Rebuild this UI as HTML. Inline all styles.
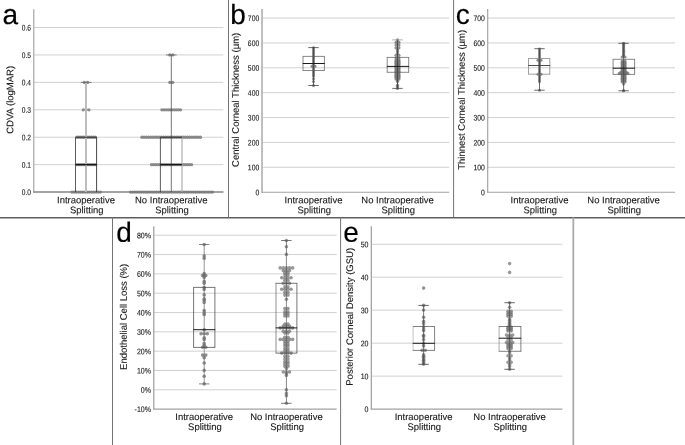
<!DOCTYPE html>
<html lang="en"><head><meta charset="utf-8"><title>Figure</title>
<style>
html,body{margin:0;padding:0;background:#fff;}
body{width:685px;height:445px;overflow:hidden;}
svg{display:block;}
svg text{font-family:"Liberation Sans",Arial,sans-serif;text-rendering:geometricPrecision;}
svg text.t{stroke:#1a1a1a;stroke-width:0.12px;}
svg text.L{stroke:#000;stroke-width:0.15px;}
</style></head><body>
<svg width="685" height="445" viewBox="0 0 685 445" font-family="'Liberation Sans', Arial, sans-serif">
<rect width="685" height="445" fill="#fff"/>
<line x1="33.80" y1="164.67" x2="223.40" y2="164.67" stroke="#cccccc" stroke-width="0.9"/>
<line x1="33.80" y1="137.24" x2="223.40" y2="137.24" stroke="#cccccc" stroke-width="0.9"/>
<line x1="33.80" y1="109.81" x2="223.40" y2="109.81" stroke="#cccccc" stroke-width="0.9"/>
<line x1="33.80" y1="82.38" x2="223.40" y2="82.38" stroke="#cccccc" stroke-width="0.9"/>
<line x1="33.80" y1="54.95" x2="223.40" y2="54.95" stroke="#cccccc" stroke-width="0.9"/>
<line x1="33.80" y1="27.52" x2="223.40" y2="27.52" stroke="#cccccc" stroke-width="0.9"/>
<line x1="33.80" y1="9.30" x2="33.80" y2="192.50" stroke="#a2a2a2" stroke-width="1.15"/>
<line x1="33.20" y1="192.00" x2="223.40" y2="192.00" stroke="#a2a2a2" stroke-width="1.05"/>
<circle cx="72.00" cy="192.10" r="1.65" fill="#808080" fill-opacity="0.88"/>
<circle cx="74.18" cy="192.10" r="1.65" fill="#808080" fill-opacity="0.88"/>
<circle cx="76.35" cy="192.10" r="1.65" fill="#808080" fill-opacity="0.88"/>
<circle cx="78.53" cy="192.10" r="1.65" fill="#808080" fill-opacity="0.88"/>
<circle cx="80.71" cy="192.10" r="1.65" fill="#808080" fill-opacity="0.88"/>
<circle cx="82.88" cy="192.10" r="1.65" fill="#808080" fill-opacity="0.88"/>
<circle cx="85.06" cy="192.10" r="1.65" fill="#808080" fill-opacity="0.88"/>
<circle cx="87.24" cy="192.10" r="1.65" fill="#808080" fill-opacity="0.88"/>
<circle cx="89.42" cy="192.10" r="1.65" fill="#808080" fill-opacity="0.88"/>
<circle cx="91.59" cy="192.10" r="1.65" fill="#808080" fill-opacity="0.88"/>
<circle cx="93.77" cy="192.10" r="1.65" fill="#808080" fill-opacity="0.88"/>
<circle cx="95.95" cy="192.10" r="1.65" fill="#808080" fill-opacity="0.88"/>
<circle cx="98.12" cy="192.10" r="1.65" fill="#808080" fill-opacity="0.88"/>
<circle cx="100.30" cy="192.10" r="1.65" fill="#808080" fill-opacity="0.88"/>
<circle cx="77.00" cy="137.24" r="1.65" fill="#808080" fill-opacity="0.88"/>
<circle cx="79.03" cy="137.24" r="1.65" fill="#808080" fill-opacity="0.88"/>
<circle cx="81.07" cy="137.24" r="1.65" fill="#808080" fill-opacity="0.88"/>
<circle cx="83.10" cy="137.24" r="1.65" fill="#808080" fill-opacity="0.88"/>
<circle cx="85.13" cy="137.24" r="1.65" fill="#808080" fill-opacity="0.88"/>
<circle cx="87.17" cy="137.24" r="1.65" fill="#808080" fill-opacity="0.88"/>
<circle cx="89.20" cy="137.24" r="1.65" fill="#808080" fill-opacity="0.88"/>
<circle cx="91.23" cy="137.24" r="1.65" fill="#808080" fill-opacity="0.88"/>
<circle cx="93.27" cy="137.24" r="1.65" fill="#808080" fill-opacity="0.88"/>
<circle cx="95.30" cy="137.24" r="1.65" fill="#808080" fill-opacity="0.88"/>
<circle cx="83.30" cy="109.81" r="1.65" fill="#808080" fill-opacity="0.88"/>
<circle cx="86.10" cy="109.81" r="1.65" fill="#808080" fill-opacity="0.88"/>
<circle cx="88.90" cy="109.81" r="1.65" fill="#808080" fill-opacity="0.88"/>
<circle cx="84.40" cy="82.38" r="1.65" fill="#808080" fill-opacity="0.88"/>
<circle cx="87.60" cy="82.38" r="1.65" fill="#808080" fill-opacity="0.88"/>
<circle cx="77.00" cy="164.67" r="1.65" fill="#808080" fill-opacity="0.88"/>
<circle cx="79.03" cy="164.67" r="1.65" fill="#808080" fill-opacity="0.88"/>
<circle cx="81.07" cy="164.67" r="1.65" fill="#808080" fill-opacity="0.88"/>
<circle cx="83.10" cy="164.67" r="1.65" fill="#808080" fill-opacity="0.88"/>
<circle cx="85.13" cy="164.67" r="1.65" fill="#808080" fill-opacity="0.88"/>
<circle cx="87.17" cy="164.67" r="1.65" fill="#808080" fill-opacity="0.88"/>
<circle cx="89.20" cy="164.67" r="1.65" fill="#808080" fill-opacity="0.88"/>
<circle cx="91.23" cy="164.67" r="1.65" fill="#808080" fill-opacity="0.88"/>
<circle cx="93.27" cy="164.67" r="1.65" fill="#808080" fill-opacity="0.88"/>
<circle cx="95.30" cy="164.67" r="1.65" fill="#808080" fill-opacity="0.88"/>
<circle cx="130.50" cy="192.10" r="1.65" fill="#808080" fill-opacity="0.88"/>
<circle cx="132.66" cy="192.10" r="1.65" fill="#808080" fill-opacity="0.88"/>
<circle cx="134.82" cy="192.10" r="1.65" fill="#808080" fill-opacity="0.88"/>
<circle cx="136.97" cy="192.10" r="1.65" fill="#808080" fill-opacity="0.88"/>
<circle cx="139.13" cy="192.10" r="1.65" fill="#808080" fill-opacity="0.88"/>
<circle cx="141.29" cy="192.10" r="1.65" fill="#808080" fill-opacity="0.88"/>
<circle cx="143.45" cy="192.10" r="1.65" fill="#808080" fill-opacity="0.88"/>
<circle cx="145.61" cy="192.10" r="1.65" fill="#808080" fill-opacity="0.88"/>
<circle cx="147.76" cy="192.10" r="1.65" fill="#808080" fill-opacity="0.88"/>
<circle cx="149.92" cy="192.10" r="1.65" fill="#808080" fill-opacity="0.88"/>
<circle cx="152.08" cy="192.10" r="1.65" fill="#808080" fill-opacity="0.88"/>
<circle cx="154.24" cy="192.10" r="1.65" fill="#808080" fill-opacity="0.88"/>
<circle cx="156.39" cy="192.10" r="1.65" fill="#808080" fill-opacity="0.88"/>
<circle cx="158.55" cy="192.10" r="1.65" fill="#808080" fill-opacity="0.88"/>
<circle cx="160.71" cy="192.10" r="1.65" fill="#808080" fill-opacity="0.88"/>
<circle cx="162.87" cy="192.10" r="1.65" fill="#808080" fill-opacity="0.88"/>
<circle cx="165.03" cy="192.10" r="1.65" fill="#808080" fill-opacity="0.88"/>
<circle cx="167.18" cy="192.10" r="1.65" fill="#808080" fill-opacity="0.88"/>
<circle cx="169.34" cy="192.10" r="1.65" fill="#808080" fill-opacity="0.88"/>
<circle cx="171.50" cy="192.10" r="1.65" fill="#808080" fill-opacity="0.88"/>
<circle cx="173.66" cy="192.10" r="1.65" fill="#808080" fill-opacity="0.88"/>
<circle cx="175.82" cy="192.10" r="1.65" fill="#808080" fill-opacity="0.88"/>
<circle cx="177.97" cy="192.10" r="1.65" fill="#808080" fill-opacity="0.88"/>
<circle cx="180.13" cy="192.10" r="1.65" fill="#808080" fill-opacity="0.88"/>
<circle cx="182.29" cy="192.10" r="1.65" fill="#808080" fill-opacity="0.88"/>
<circle cx="184.45" cy="192.10" r="1.65" fill="#808080" fill-opacity="0.88"/>
<circle cx="186.61" cy="192.10" r="1.65" fill="#808080" fill-opacity="0.88"/>
<circle cx="188.76" cy="192.10" r="1.65" fill="#808080" fill-opacity="0.88"/>
<circle cx="190.92" cy="192.10" r="1.65" fill="#808080" fill-opacity="0.88"/>
<circle cx="193.08" cy="192.10" r="1.65" fill="#808080" fill-opacity="0.88"/>
<circle cx="195.24" cy="192.10" r="1.65" fill="#808080" fill-opacity="0.88"/>
<circle cx="197.39" cy="192.10" r="1.65" fill="#808080" fill-opacity="0.88"/>
<circle cx="199.55" cy="192.10" r="1.65" fill="#808080" fill-opacity="0.88"/>
<circle cx="201.71" cy="192.10" r="1.65" fill="#808080" fill-opacity="0.88"/>
<circle cx="203.87" cy="192.10" r="1.65" fill="#808080" fill-opacity="0.88"/>
<circle cx="206.03" cy="192.10" r="1.65" fill="#808080" fill-opacity="0.88"/>
<circle cx="208.18" cy="192.10" r="1.65" fill="#808080" fill-opacity="0.88"/>
<circle cx="210.34" cy="192.10" r="1.65" fill="#808080" fill-opacity="0.88"/>
<circle cx="212.50" cy="192.10" r="1.65" fill="#808080" fill-opacity="0.88"/>
<circle cx="151.50" cy="164.67" r="1.65" fill="#808080" fill-opacity="0.88"/>
<circle cx="153.61" cy="164.67" r="1.65" fill="#808080" fill-opacity="0.88"/>
<circle cx="155.71" cy="164.67" r="1.65" fill="#808080" fill-opacity="0.88"/>
<circle cx="157.82" cy="164.67" r="1.65" fill="#808080" fill-opacity="0.88"/>
<circle cx="159.92" cy="164.67" r="1.65" fill="#808080" fill-opacity="0.88"/>
<circle cx="162.03" cy="164.67" r="1.65" fill="#808080" fill-opacity="0.88"/>
<circle cx="164.13" cy="164.67" r="1.65" fill="#808080" fill-opacity="0.88"/>
<circle cx="166.24" cy="164.67" r="1.65" fill="#808080" fill-opacity="0.88"/>
<circle cx="168.34" cy="164.67" r="1.65" fill="#808080" fill-opacity="0.88"/>
<circle cx="170.45" cy="164.67" r="1.65" fill="#808080" fill-opacity="0.88"/>
<circle cx="172.55" cy="164.67" r="1.65" fill="#808080" fill-opacity="0.88"/>
<circle cx="174.66" cy="164.67" r="1.65" fill="#808080" fill-opacity="0.88"/>
<circle cx="176.76" cy="164.67" r="1.65" fill="#808080" fill-opacity="0.88"/>
<circle cx="178.87" cy="164.67" r="1.65" fill="#808080" fill-opacity="0.88"/>
<circle cx="180.97" cy="164.67" r="1.65" fill="#808080" fill-opacity="0.88"/>
<circle cx="183.08" cy="164.67" r="1.65" fill="#808080" fill-opacity="0.88"/>
<circle cx="185.18" cy="164.67" r="1.65" fill="#808080" fill-opacity="0.88"/>
<circle cx="187.29" cy="164.67" r="1.65" fill="#808080" fill-opacity="0.88"/>
<circle cx="189.39" cy="164.67" r="1.65" fill="#808080" fill-opacity="0.88"/>
<circle cx="191.50" cy="164.67" r="1.65" fill="#808080" fill-opacity="0.88"/>
<circle cx="141.90" cy="137.24" r="1.65" fill="#808080" fill-opacity="0.88"/>
<circle cx="144.07" cy="137.24" r="1.65" fill="#808080" fill-opacity="0.88"/>
<circle cx="146.24" cy="137.24" r="1.65" fill="#808080" fill-opacity="0.88"/>
<circle cx="148.41" cy="137.24" r="1.65" fill="#808080" fill-opacity="0.88"/>
<circle cx="150.58" cy="137.24" r="1.65" fill="#808080" fill-opacity="0.88"/>
<circle cx="152.75" cy="137.24" r="1.65" fill="#808080" fill-opacity="0.88"/>
<circle cx="154.92" cy="137.24" r="1.65" fill="#808080" fill-opacity="0.88"/>
<circle cx="157.09" cy="137.24" r="1.65" fill="#808080" fill-opacity="0.88"/>
<circle cx="159.26" cy="137.24" r="1.65" fill="#808080" fill-opacity="0.88"/>
<circle cx="161.43" cy="137.24" r="1.65" fill="#808080" fill-opacity="0.88"/>
<circle cx="163.60" cy="137.24" r="1.65" fill="#808080" fill-opacity="0.88"/>
<circle cx="165.77" cy="137.24" r="1.65" fill="#808080" fill-opacity="0.88"/>
<circle cx="167.94" cy="137.24" r="1.65" fill="#808080" fill-opacity="0.88"/>
<circle cx="170.11" cy="137.24" r="1.65" fill="#808080" fill-opacity="0.88"/>
<circle cx="172.29" cy="137.24" r="1.65" fill="#808080" fill-opacity="0.88"/>
<circle cx="174.46" cy="137.24" r="1.65" fill="#808080" fill-opacity="0.88"/>
<circle cx="176.63" cy="137.24" r="1.65" fill="#808080" fill-opacity="0.88"/>
<circle cx="178.80" cy="137.24" r="1.65" fill="#808080" fill-opacity="0.88"/>
<circle cx="180.97" cy="137.24" r="1.65" fill="#808080" fill-opacity="0.88"/>
<circle cx="183.14" cy="137.24" r="1.65" fill="#808080" fill-opacity="0.88"/>
<circle cx="185.31" cy="137.24" r="1.65" fill="#808080" fill-opacity="0.88"/>
<circle cx="187.48" cy="137.24" r="1.65" fill="#808080" fill-opacity="0.88"/>
<circle cx="189.65" cy="137.24" r="1.65" fill="#808080" fill-opacity="0.88"/>
<circle cx="191.82" cy="137.24" r="1.65" fill="#808080" fill-opacity="0.88"/>
<circle cx="193.99" cy="137.24" r="1.65" fill="#808080" fill-opacity="0.88"/>
<circle cx="196.16" cy="137.24" r="1.65" fill="#808080" fill-opacity="0.88"/>
<circle cx="198.33" cy="137.24" r="1.65" fill="#808080" fill-opacity="0.88"/>
<circle cx="200.50" cy="137.24" r="1.65" fill="#808080" fill-opacity="0.88"/>
<circle cx="161.90" cy="109.81" r="1.65" fill="#808080" fill-opacity="0.88"/>
<circle cx="163.97" cy="109.81" r="1.65" fill="#808080" fill-opacity="0.88"/>
<circle cx="166.03" cy="109.81" r="1.65" fill="#808080" fill-opacity="0.88"/>
<circle cx="168.10" cy="109.81" r="1.65" fill="#808080" fill-opacity="0.88"/>
<circle cx="170.17" cy="109.81" r="1.65" fill="#808080" fill-opacity="0.88"/>
<circle cx="172.23" cy="109.81" r="1.65" fill="#808080" fill-opacity="0.88"/>
<circle cx="174.30" cy="109.81" r="1.65" fill="#808080" fill-opacity="0.88"/>
<circle cx="176.37" cy="109.81" r="1.65" fill="#808080" fill-opacity="0.88"/>
<circle cx="178.43" cy="109.81" r="1.65" fill="#808080" fill-opacity="0.88"/>
<circle cx="180.50" cy="109.81" r="1.65" fill="#808080" fill-opacity="0.88"/>
<circle cx="169.80" cy="82.38" r="1.65" fill="#808080" fill-opacity="0.88"/>
<circle cx="172.80" cy="82.38" r="1.65" fill="#808080" fill-opacity="0.88"/>
<circle cx="169.80" cy="54.95" r="1.65" fill="#808080" fill-opacity="0.88"/>
<circle cx="172.80" cy="54.95" r="1.65" fill="#808080" fill-opacity="0.88"/>
<line x1="33.20" y1="192.00" x2="223.40" y2="192.00" stroke="#777" stroke-width="1.0"/>
<line x1="86.00" y1="82.38" x2="86.00" y2="192.10" stroke="#bdbdbd" stroke-width="2.0"/>
<line x1="80.80" y1="82.38" x2="91.60" y2="82.38" stroke="#666" stroke-width="0.8"/>
<line x1="75.50" y1="137.24" x2="75.50" y2="192.10" stroke="#333" stroke-width="0.8"/>
<line x1="96.60" y1="137.24" x2="96.60" y2="192.10" stroke="#333" stroke-width="0.9"/>
<line x1="75.50" y1="164.67" x2="96.80" y2="164.67" stroke="#111" stroke-width="1.2"/>
<line x1="75.50" y1="137.24" x2="96.80" y2="137.24" stroke="#333" stroke-width="1.0"/>
<line x1="171.30" y1="54.95" x2="171.30" y2="192.10" stroke="#3c3c3c" stroke-width="0.7"/>
<line x1="166.00" y1="54.95" x2="176.60" y2="54.95" stroke="#666" stroke-width="0.8"/>
<line x1="160.40" y1="137.24" x2="160.40" y2="192.10" stroke="#333" stroke-width="0.8"/>
<line x1="182.00" y1="137.24" x2="182.00" y2="192.10" stroke="#a8a8a8" stroke-width="1.1"/>
<line x1="160.40" y1="164.67" x2="182.00" y2="164.67" stroke="#111" stroke-width="1.2"/>
<line x1="160.40" y1="137.24" x2="182.00" y2="137.24" stroke="#333" stroke-width="1.0"/>
<line x1="262.00" y1="167.28" x2="449.20" y2="167.28" stroke="#cccccc" stroke-width="0.9"/>
<line x1="262.00" y1="142.41" x2="449.20" y2="142.41" stroke="#cccccc" stroke-width="0.9"/>
<line x1="262.00" y1="117.54" x2="449.20" y2="117.54" stroke="#cccccc" stroke-width="0.9"/>
<line x1="262.00" y1="92.67" x2="449.20" y2="92.67" stroke="#cccccc" stroke-width="0.9"/>
<line x1="262.00" y1="67.80" x2="449.20" y2="67.80" stroke="#cccccc" stroke-width="0.9"/>
<line x1="262.00" y1="42.93" x2="449.20" y2="42.93" stroke="#cccccc" stroke-width="0.9"/>
<line x1="262.00" y1="18.06" x2="449.20" y2="18.06" stroke="#cccccc" stroke-width="0.9"/>
<line x1="262.00" y1="9.10" x2="262.00" y2="192.65" stroke="#b4b4b4" stroke-width="1.7"/>
<line x1="261.40" y1="192.15" x2="449.20" y2="192.15" stroke="#a2a2a2" stroke-width="1.05"/>
<circle cx="313.50" cy="47.60" r="1.25" fill="#6e6e6e" fill-opacity="0.85"/>
<circle cx="313.50" cy="48.60" r="1.25" fill="#6e6e6e" fill-opacity="0.85"/>
<circle cx="313.50" cy="49.59" r="1.25" fill="#6e6e6e" fill-opacity="0.85"/>
<circle cx="313.50" cy="50.59" r="1.25" fill="#6e6e6e" fill-opacity="0.85"/>
<circle cx="313.50" cy="51.59" r="1.25" fill="#6e6e6e" fill-opacity="0.85"/>
<circle cx="313.50" cy="52.58" r="1.25" fill="#6e6e6e" fill-opacity="0.85"/>
<circle cx="313.50" cy="53.58" r="1.25" fill="#6e6e6e" fill-opacity="0.85"/>
<circle cx="313.50" cy="54.58" r="1.25" fill="#6e6e6e" fill-opacity="0.85"/>
<circle cx="313.50" cy="55.57" r="1.25" fill="#6e6e6e" fill-opacity="0.85"/>
<circle cx="313.50" cy="56.57" r="1.25" fill="#6e6e6e" fill-opacity="0.85"/>
<circle cx="313.50" cy="57.57" r="1.25" fill="#6e6e6e" fill-opacity="0.85"/>
<circle cx="313.50" cy="58.56" r="1.25" fill="#6e6e6e" fill-opacity="0.85"/>
<circle cx="313.50" cy="59.56" r="1.25" fill="#6e6e6e" fill-opacity="0.85"/>
<circle cx="313.50" cy="60.56" r="1.25" fill="#6e6e6e" fill-opacity="0.85"/>
<circle cx="313.50" cy="61.55" r="1.25" fill="#6e6e6e" fill-opacity="0.85"/>
<circle cx="313.50" cy="62.55" r="1.25" fill="#6e6e6e" fill-opacity="0.85"/>
<circle cx="313.50" cy="63.54" r="1.25" fill="#6e6e6e" fill-opacity="0.85"/>
<circle cx="313.50" cy="64.54" r="1.25" fill="#6e6e6e" fill-opacity="0.85"/>
<circle cx="313.50" cy="65.54" r="1.25" fill="#6e6e6e" fill-opacity="0.85"/>
<circle cx="313.50" cy="66.53" r="1.25" fill="#6e6e6e" fill-opacity="0.85"/>
<circle cx="313.50" cy="67.53" r="1.25" fill="#6e6e6e" fill-opacity="0.85"/>
<circle cx="313.50" cy="68.53" r="1.25" fill="#6e6e6e" fill-opacity="0.85"/>
<circle cx="313.50" cy="69.52" r="1.25" fill="#6e6e6e" fill-opacity="0.85"/>
<circle cx="313.50" cy="70.52" r="1.25" fill="#6e6e6e" fill-opacity="0.85"/>
<circle cx="313.50" cy="71.52" r="1.25" fill="#6e6e6e" fill-opacity="0.85"/>
<circle cx="313.50" cy="72.51" r="1.25" fill="#6e6e6e" fill-opacity="0.85"/>
<circle cx="313.50" cy="73.51" r="1.25" fill="#6e6e6e" fill-opacity="0.85"/>
<circle cx="313.50" cy="74.51" r="1.25" fill="#6e6e6e" fill-opacity="0.85"/>
<circle cx="313.50" cy="75.50" r="1.25" fill="#6e6e6e" fill-opacity="0.85"/>
<circle cx="313.50" cy="76.50" r="1.25" fill="#6e6e6e" fill-opacity="0.85"/>
<circle cx="311.95" cy="66.30" r="1.5" fill="#6e6e6e" fill-opacity="0.8"/>
<circle cx="315.05" cy="66.30" r="1.5" fill="#6e6e6e" fill-opacity="0.8"/>
<circle cx="313.50" cy="78.80" r="1.5" fill="#6e6e6e" fill-opacity="0.8"/>
<circle cx="313.50" cy="85.50" r="1.5" fill="#6e6e6e" fill-opacity="0.8"/>
<circle cx="313.50" cy="81.50" r="1.5" fill="#6e6e6e" fill-opacity="0.8"/>
<line x1="313.50" y1="47.60" x2="313.50" y2="85.50" stroke="#444" stroke-width="0.8"/>
<line x1="308.30" y1="47.60" x2="318.70" y2="47.60" stroke="#444" stroke-width="0.8"/>
<line x1="308.30" y1="85.50" x2="318.70" y2="85.50" stroke="#444" stroke-width="0.8"/>
<line x1="303.00" y1="56.40" x2="303.00" y2="70.50" stroke="#555" stroke-width="0.7"/>
<line x1="324.40" y1="56.40" x2="324.40" y2="70.50" stroke="#555" stroke-width="0.7"/>
<line x1="302.65" y1="56.40" x2="324.75" y2="56.40" stroke="#555" stroke-width="0.7"/>
<line x1="302.65" y1="70.50" x2="324.75" y2="70.50" stroke="#555" stroke-width="0.7"/>
<line x1="302.65" y1="63.50" x2="324.75" y2="63.50" stroke="#1a1a1a" stroke-width="1.0"/>
<circle cx="396.05" cy="42.40" r="1.6" fill="#6e6e6e" fill-opacity="0.78"/>
<circle cx="398.95" cy="42.40" r="1.6" fill="#6e6e6e" fill-opacity="0.78"/>
<circle cx="396.05" cy="45.10" r="1.6" fill="#6e6e6e" fill-opacity="0.78"/>
<circle cx="398.95" cy="45.10" r="1.6" fill="#6e6e6e" fill-opacity="0.78"/>
<circle cx="396.05" cy="47.80" r="1.6" fill="#6e6e6e" fill-opacity="0.78"/>
<circle cx="398.95" cy="47.80" r="1.6" fill="#6e6e6e" fill-opacity="0.78"/>
<circle cx="397.50" cy="49.80" r="1.6" fill="#6e6e6e" fill-opacity="0.78"/>
<circle cx="397.50" cy="51.60" r="1.6" fill="#6e6e6e" fill-opacity="0.78"/>
<circle cx="397.50" cy="53.50" r="1.6" fill="#6e6e6e" fill-opacity="0.78"/>
<circle cx="396.05" cy="55.30" r="1.6" fill="#6e6e6e" fill-opacity="0.78"/>
<circle cx="398.95" cy="55.30" r="1.6" fill="#6e6e6e" fill-opacity="0.78"/>
<circle cx="396.05" cy="58.00" r="1.6" fill="#6e6e6e" fill-opacity="0.78"/>
<circle cx="398.95" cy="58.00" r="1.6" fill="#6e6e6e" fill-opacity="0.78"/>
<circle cx="396.05" cy="60.00" r="1.6" fill="#6e6e6e" fill-opacity="0.78"/>
<circle cx="398.95" cy="60.00" r="1.6" fill="#6e6e6e" fill-opacity="0.78"/>
<circle cx="396.05" cy="61.00" r="1.6" fill="#6e6e6e" fill-opacity="0.78"/>
<circle cx="398.95" cy="61.00" r="1.6" fill="#6e6e6e" fill-opacity="0.78"/>
<circle cx="396.05" cy="62.29" r="1.6" fill="#6e6e6e" fill-opacity="0.78"/>
<circle cx="398.95" cy="62.29" r="1.6" fill="#6e6e6e" fill-opacity="0.78"/>
<circle cx="396.05" cy="63.57" r="1.6" fill="#6e6e6e" fill-opacity="0.78"/>
<circle cx="398.95" cy="63.57" r="1.6" fill="#6e6e6e" fill-opacity="0.78"/>
<circle cx="396.05" cy="64.86" r="1.6" fill="#6e6e6e" fill-opacity="0.78"/>
<circle cx="398.95" cy="64.86" r="1.6" fill="#6e6e6e" fill-opacity="0.78"/>
<circle cx="396.05" cy="66.14" r="1.6" fill="#6e6e6e" fill-opacity="0.78"/>
<circle cx="398.95" cy="66.14" r="1.6" fill="#6e6e6e" fill-opacity="0.78"/>
<circle cx="396.05" cy="67.43" r="1.6" fill="#6e6e6e" fill-opacity="0.78"/>
<circle cx="398.95" cy="67.43" r="1.6" fill="#6e6e6e" fill-opacity="0.78"/>
<circle cx="396.05" cy="68.71" r="1.6" fill="#6e6e6e" fill-opacity="0.78"/>
<circle cx="398.95" cy="68.71" r="1.6" fill="#6e6e6e" fill-opacity="0.78"/>
<circle cx="396.05" cy="70.00" r="1.6" fill="#6e6e6e" fill-opacity="0.78"/>
<circle cx="398.95" cy="70.00" r="1.6" fill="#6e6e6e" fill-opacity="0.78"/>
<circle cx="396.05" cy="71.29" r="1.6" fill="#6e6e6e" fill-opacity="0.78"/>
<circle cx="398.95" cy="71.29" r="1.6" fill="#6e6e6e" fill-opacity="0.78"/>
<circle cx="396.05" cy="72.57" r="1.6" fill="#6e6e6e" fill-opacity="0.78"/>
<circle cx="398.95" cy="72.57" r="1.6" fill="#6e6e6e" fill-opacity="0.78"/>
<circle cx="396.05" cy="73.86" r="1.6" fill="#6e6e6e" fill-opacity="0.78"/>
<circle cx="398.95" cy="73.86" r="1.6" fill="#6e6e6e" fill-opacity="0.78"/>
<circle cx="396.05" cy="75.14" r="1.6" fill="#6e6e6e" fill-opacity="0.78"/>
<circle cx="398.95" cy="75.14" r="1.6" fill="#6e6e6e" fill-opacity="0.78"/>
<circle cx="396.05" cy="76.43" r="1.6" fill="#6e6e6e" fill-opacity="0.78"/>
<circle cx="398.95" cy="76.43" r="1.6" fill="#6e6e6e" fill-opacity="0.78"/>
<circle cx="396.05" cy="77.71" r="1.6" fill="#6e6e6e" fill-opacity="0.78"/>
<circle cx="398.95" cy="77.71" r="1.6" fill="#6e6e6e" fill-opacity="0.78"/>
<circle cx="396.05" cy="79.00" r="1.6" fill="#6e6e6e" fill-opacity="0.78"/>
<circle cx="398.95" cy="79.00" r="1.6" fill="#6e6e6e" fill-opacity="0.78"/>
<circle cx="397.50" cy="80.30" r="1.6" fill="#6e6e6e" fill-opacity="0.78"/>
<circle cx="397.50" cy="81.60" r="1.6" fill="#6e6e6e" fill-opacity="0.78"/>
<circle cx="397.50" cy="39.90" r="1.6" fill="#6e6e6e" fill-opacity="0.8"/>
<circle cx="397.50" cy="85.20" r="1.6" fill="#6e6e6e" fill-opacity="0.8"/>
<circle cx="397.50" cy="86.60" r="1.6" fill="#6e6e6e" fill-opacity="0.8"/>
<circle cx="397.50" cy="88.40" r="1.6" fill="#6e6e6e" fill-opacity="0.8"/>
<line x1="397.50" y1="39.90" x2="397.50" y2="88.40" stroke="#444" stroke-width="0.9"/>
<line x1="392.30" y1="39.90" x2="402.70" y2="39.90" stroke="#999" stroke-width="0.8"/>
<line x1="392.30" y1="88.40" x2="402.70" y2="88.40" stroke="#444" stroke-width="0.8"/>
<line x1="387.20" y1="57.40" x2="387.20" y2="72.30" stroke="#555" stroke-width="0.7"/>
<line x1="408.70" y1="57.40" x2="408.70" y2="72.30" stroke="#555" stroke-width="0.7"/>
<line x1="386.85" y1="57.40" x2="409.05" y2="57.40" stroke="#555" stroke-width="0.7"/>
<line x1="386.85" y1="72.30" x2="409.05" y2="72.30" stroke="#555" stroke-width="0.7"/>
<line x1="386.85" y1="66.40" x2="409.05" y2="66.40" stroke="#1a1a1a" stroke-width="1.0"/>
<line x1="487.70" y1="167.28" x2="675.00" y2="167.28" stroke="#cccccc" stroke-width="0.9"/>
<line x1="487.70" y1="142.41" x2="675.00" y2="142.41" stroke="#cccccc" stroke-width="0.9"/>
<line x1="487.70" y1="117.54" x2="675.00" y2="117.54" stroke="#cccccc" stroke-width="0.9"/>
<line x1="487.70" y1="92.67" x2="675.00" y2="92.67" stroke="#cccccc" stroke-width="0.9"/>
<line x1="487.70" y1="67.80" x2="675.00" y2="67.80" stroke="#cccccc" stroke-width="0.9"/>
<line x1="487.70" y1="42.93" x2="675.00" y2="42.93" stroke="#cccccc" stroke-width="0.9"/>
<line x1="487.70" y1="18.06" x2="675.00" y2="18.06" stroke="#cccccc" stroke-width="0.9"/>
<line x1="487.70" y1="9.10" x2="487.70" y2="192.65" stroke="#a2a2a2" stroke-width="1.15"/>
<line x1="487.10" y1="192.15" x2="675.00" y2="192.15" stroke="#a2a2a2" stroke-width="1.05"/>
<circle cx="539.50" cy="48.70" r="1.25" fill="#6e6e6e" fill-opacity="0.85"/>
<circle cx="539.50" cy="49.71" r="1.25" fill="#6e6e6e" fill-opacity="0.85"/>
<circle cx="539.50" cy="50.72" r="1.25" fill="#6e6e6e" fill-opacity="0.85"/>
<circle cx="539.50" cy="51.73" r="1.25" fill="#6e6e6e" fill-opacity="0.85"/>
<circle cx="539.50" cy="52.74" r="1.25" fill="#6e6e6e" fill-opacity="0.85"/>
<circle cx="539.50" cy="53.75" r="1.25" fill="#6e6e6e" fill-opacity="0.85"/>
<circle cx="539.50" cy="54.75" r="1.25" fill="#6e6e6e" fill-opacity="0.85"/>
<circle cx="539.50" cy="55.76" r="1.25" fill="#6e6e6e" fill-opacity="0.85"/>
<circle cx="539.50" cy="56.77" r="1.25" fill="#6e6e6e" fill-opacity="0.85"/>
<circle cx="539.50" cy="57.78" r="1.25" fill="#6e6e6e" fill-opacity="0.85"/>
<circle cx="539.50" cy="58.79" r="1.25" fill="#6e6e6e" fill-opacity="0.85"/>
<circle cx="539.50" cy="59.80" r="1.25" fill="#6e6e6e" fill-opacity="0.85"/>
<circle cx="539.50" cy="60.81" r="1.25" fill="#6e6e6e" fill-opacity="0.85"/>
<circle cx="539.50" cy="61.82" r="1.25" fill="#6e6e6e" fill-opacity="0.85"/>
<circle cx="539.50" cy="62.83" r="1.25" fill="#6e6e6e" fill-opacity="0.85"/>
<circle cx="539.50" cy="63.84" r="1.25" fill="#6e6e6e" fill-opacity="0.85"/>
<circle cx="539.50" cy="64.85" r="1.25" fill="#6e6e6e" fill-opacity="0.85"/>
<circle cx="539.50" cy="65.85" r="1.25" fill="#6e6e6e" fill-opacity="0.85"/>
<circle cx="539.50" cy="66.86" r="1.25" fill="#6e6e6e" fill-opacity="0.85"/>
<circle cx="539.50" cy="67.87" r="1.25" fill="#6e6e6e" fill-opacity="0.85"/>
<circle cx="539.50" cy="68.88" r="1.25" fill="#6e6e6e" fill-opacity="0.85"/>
<circle cx="539.50" cy="69.89" r="1.25" fill="#6e6e6e" fill-opacity="0.85"/>
<circle cx="539.50" cy="70.90" r="1.25" fill="#6e6e6e" fill-opacity="0.85"/>
<circle cx="539.50" cy="71.91" r="1.25" fill="#6e6e6e" fill-opacity="0.85"/>
<circle cx="539.50" cy="72.92" r="1.25" fill="#6e6e6e" fill-opacity="0.85"/>
<circle cx="539.50" cy="73.93" r="1.25" fill="#6e6e6e" fill-opacity="0.85"/>
<circle cx="539.50" cy="74.94" r="1.25" fill="#6e6e6e" fill-opacity="0.85"/>
<circle cx="539.50" cy="75.95" r="1.25" fill="#6e6e6e" fill-opacity="0.85"/>
<circle cx="539.50" cy="76.95" r="1.25" fill="#6e6e6e" fill-opacity="0.85"/>
<circle cx="539.50" cy="77.96" r="1.25" fill="#6e6e6e" fill-opacity="0.85"/>
<circle cx="539.50" cy="78.97" r="1.25" fill="#6e6e6e" fill-opacity="0.85"/>
<circle cx="539.50" cy="79.98" r="1.25" fill="#6e6e6e" fill-opacity="0.85"/>
<circle cx="539.50" cy="80.99" r="1.25" fill="#6e6e6e" fill-opacity="0.85"/>
<circle cx="539.50" cy="82.00" r="1.25" fill="#6e6e6e" fill-opacity="0.85"/>
<circle cx="537.95" cy="60.20" r="1.5" fill="#6e6e6e" fill-opacity="0.8"/>
<circle cx="541.05" cy="60.20" r="1.5" fill="#6e6e6e" fill-opacity="0.8"/>
<circle cx="537.95" cy="74.20" r="1.5" fill="#6e6e6e" fill-opacity="0.8"/>
<circle cx="541.05" cy="74.20" r="1.5" fill="#6e6e6e" fill-opacity="0.8"/>
<circle cx="539.50" cy="90.20" r="1.5" fill="#6e6e6e" fill-opacity="0.8"/>
<line x1="539.50" y1="48.70" x2="539.50" y2="90.20" stroke="#444" stroke-width="0.8"/>
<line x1="534.30" y1="48.70" x2="544.70" y2="48.70" stroke="#444" stroke-width="0.8"/>
<line x1="534.30" y1="90.20" x2="544.70" y2="90.20" stroke="#444" stroke-width="0.8"/>
<line x1="528.50" y1="58.50" x2="528.50" y2="74.20" stroke="#777" stroke-width="0.7"/>
<line x1="549.80" y1="58.50" x2="549.80" y2="74.20" stroke="#777" stroke-width="0.7"/>
<line x1="528.15" y1="58.50" x2="550.15" y2="58.50" stroke="#777" stroke-width="0.7"/>
<line x1="528.15" y1="74.20" x2="550.15" y2="74.20" stroke="#777" stroke-width="0.7"/>
<line x1="528.15" y1="65.50" x2="550.15" y2="65.50" stroke="#3a3a3a" stroke-width="0.9"/>
<circle cx="623.60" cy="43.30" r="1.55" fill="#6e6e6e" fill-opacity="0.75"/>
<circle cx="623.60" cy="44.45" r="1.55" fill="#6e6e6e" fill-opacity="0.75"/>
<circle cx="623.60" cy="45.61" r="1.55" fill="#6e6e6e" fill-opacity="0.75"/>
<circle cx="623.60" cy="46.76" r="1.55" fill="#6e6e6e" fill-opacity="0.75"/>
<circle cx="623.60" cy="47.92" r="1.55" fill="#6e6e6e" fill-opacity="0.75"/>
<circle cx="623.60" cy="49.07" r="1.55" fill="#6e6e6e" fill-opacity="0.75"/>
<circle cx="623.60" cy="50.23" r="1.55" fill="#6e6e6e" fill-opacity="0.75"/>
<circle cx="623.60" cy="51.38" r="1.55" fill="#6e6e6e" fill-opacity="0.75"/>
<circle cx="623.60" cy="52.54" r="1.55" fill="#6e6e6e" fill-opacity="0.75"/>
<circle cx="623.60" cy="53.69" r="1.55" fill="#6e6e6e" fill-opacity="0.75"/>
<circle cx="623.60" cy="54.85" r="1.55" fill="#6e6e6e" fill-opacity="0.75"/>
<circle cx="623.60" cy="56.00" r="1.55" fill="#6e6e6e" fill-opacity="0.75"/>
<circle cx="622.15" cy="57.00" r="1.55" fill="#6e6e6e" fill-opacity="0.75"/>
<circle cx="625.05" cy="57.00" r="1.55" fill="#6e6e6e" fill-opacity="0.75"/>
<circle cx="622.15" cy="61.00" r="1.55" fill="#6e6e6e" fill-opacity="0.75"/>
<circle cx="625.05" cy="61.00" r="1.55" fill="#6e6e6e" fill-opacity="0.75"/>
<circle cx="622.15" cy="62.24" r="1.55" fill="#6e6e6e" fill-opacity="0.75"/>
<circle cx="625.05" cy="62.24" r="1.55" fill="#6e6e6e" fill-opacity="0.75"/>
<circle cx="622.15" cy="63.47" r="1.55" fill="#6e6e6e" fill-opacity="0.75"/>
<circle cx="625.05" cy="63.47" r="1.55" fill="#6e6e6e" fill-opacity="0.75"/>
<circle cx="622.15" cy="64.71" r="1.55" fill="#6e6e6e" fill-opacity="0.75"/>
<circle cx="625.05" cy="64.71" r="1.55" fill="#6e6e6e" fill-opacity="0.75"/>
<circle cx="622.15" cy="65.94" r="1.55" fill="#6e6e6e" fill-opacity="0.75"/>
<circle cx="625.05" cy="65.94" r="1.55" fill="#6e6e6e" fill-opacity="0.75"/>
<circle cx="622.15" cy="67.18" r="1.55" fill="#6e6e6e" fill-opacity="0.75"/>
<circle cx="625.05" cy="67.18" r="1.55" fill="#6e6e6e" fill-opacity="0.75"/>
<circle cx="622.15" cy="68.41" r="1.55" fill="#6e6e6e" fill-opacity="0.75"/>
<circle cx="625.05" cy="68.41" r="1.55" fill="#6e6e6e" fill-opacity="0.75"/>
<circle cx="622.15" cy="69.65" r="1.55" fill="#6e6e6e" fill-opacity="0.75"/>
<circle cx="625.05" cy="69.65" r="1.55" fill="#6e6e6e" fill-opacity="0.75"/>
<circle cx="622.15" cy="70.88" r="1.55" fill="#6e6e6e" fill-opacity="0.75"/>
<circle cx="625.05" cy="70.88" r="1.55" fill="#6e6e6e" fill-opacity="0.75"/>
<circle cx="622.15" cy="72.12" r="1.55" fill="#6e6e6e" fill-opacity="0.75"/>
<circle cx="625.05" cy="72.12" r="1.55" fill="#6e6e6e" fill-opacity="0.75"/>
<circle cx="622.15" cy="73.35" r="1.55" fill="#6e6e6e" fill-opacity="0.75"/>
<circle cx="625.05" cy="73.35" r="1.55" fill="#6e6e6e" fill-opacity="0.75"/>
<circle cx="622.15" cy="74.59" r="1.55" fill="#6e6e6e" fill-opacity="0.75"/>
<circle cx="625.05" cy="74.59" r="1.55" fill="#6e6e6e" fill-opacity="0.75"/>
<circle cx="622.15" cy="75.82" r="1.55" fill="#6e6e6e" fill-opacity="0.75"/>
<circle cx="625.05" cy="75.82" r="1.55" fill="#6e6e6e" fill-opacity="0.75"/>
<circle cx="622.15" cy="77.06" r="1.55" fill="#6e6e6e" fill-opacity="0.75"/>
<circle cx="625.05" cy="77.06" r="1.55" fill="#6e6e6e" fill-opacity="0.75"/>
<circle cx="622.15" cy="78.29" r="1.55" fill="#6e6e6e" fill-opacity="0.75"/>
<circle cx="625.05" cy="78.29" r="1.55" fill="#6e6e6e" fill-opacity="0.75"/>
<circle cx="622.15" cy="79.53" r="1.55" fill="#6e6e6e" fill-opacity="0.75"/>
<circle cx="625.05" cy="79.53" r="1.55" fill="#6e6e6e" fill-opacity="0.75"/>
<circle cx="622.15" cy="80.76" r="1.55" fill="#6e6e6e" fill-opacity="0.75"/>
<circle cx="625.05" cy="80.76" r="1.55" fill="#6e6e6e" fill-opacity="0.75"/>
<circle cx="622.15" cy="82.00" r="1.55" fill="#6e6e6e" fill-opacity="0.75"/>
<circle cx="625.05" cy="82.00" r="1.55" fill="#6e6e6e" fill-opacity="0.75"/>
<circle cx="619.25" cy="73.40" r="1.55" fill="#6e6e6e" fill-opacity="0.75"/>
<circle cx="622.15" cy="73.40" r="1.55" fill="#6e6e6e" fill-opacity="0.75"/>
<circle cx="625.05" cy="73.40" r="1.55" fill="#6e6e6e" fill-opacity="0.75"/>
<circle cx="627.95" cy="73.40" r="1.55" fill="#6e6e6e" fill-opacity="0.75"/>
<circle cx="620.70" cy="72.20" r="1.55" fill="#6e6e6e" fill-opacity="0.75"/>
<circle cx="623.60" cy="72.20" r="1.55" fill="#6e6e6e" fill-opacity="0.75"/>
<circle cx="626.50" cy="72.20" r="1.55" fill="#6e6e6e" fill-opacity="0.75"/>
<circle cx="623.60" cy="84.00" r="1.55" fill="#6e6e6e" fill-opacity="0.75"/>
<circle cx="623.60" cy="90.80" r="1.55" fill="#6e6e6e" fill-opacity="0.75"/>
<circle cx="623.60" cy="90.60" r="1.55" fill="#6e6e6e" fill-opacity="0.75"/>
<circle cx="623.60" cy="43.50" r="1.55" fill="#6e6e6e" fill-opacity="0.75"/>
<line x1="623.60" y1="43.30" x2="623.60" y2="90.80" stroke="#444" stroke-width="0.8"/>
<line x1="618.40" y1="43.30" x2="628.80" y2="43.30" stroke="#444" stroke-width="0.8"/>
<line x1="618.40" y1="90.80" x2="628.80" y2="90.80" stroke="#444" stroke-width="0.8"/>
<line x1="613.10" y1="59.30" x2="613.10" y2="74.40" stroke="#555" stroke-width="0.7"/>
<line x1="634.60" y1="59.30" x2="634.60" y2="74.40" stroke="#555" stroke-width="0.7"/>
<line x1="612.75" y1="59.30" x2="634.95" y2="59.30" stroke="#555" stroke-width="0.7"/>
<line x1="612.75" y1="74.40" x2="634.95" y2="74.40" stroke="#555" stroke-width="0.7"/>
<line x1="612.75" y1="68.20" x2="634.95" y2="68.20" stroke="#1a1a1a" stroke-width="1.0"/>
<line x1="153.80" y1="389.80" x2="336.70" y2="389.80" stroke="#cccccc" stroke-width="0.9"/>
<line x1="153.80" y1="370.48" x2="336.70" y2="370.48" stroke="#cccccc" stroke-width="0.9"/>
<line x1="153.80" y1="351.16" x2="336.70" y2="351.16" stroke="#cccccc" stroke-width="0.9"/>
<line x1="153.80" y1="331.84" x2="336.70" y2="331.84" stroke="#cccccc" stroke-width="0.9"/>
<line x1="153.80" y1="312.52" x2="336.70" y2="312.52" stroke="#cccccc" stroke-width="0.9"/>
<line x1="153.80" y1="293.20" x2="336.70" y2="293.20" stroke="#cccccc" stroke-width="0.9"/>
<line x1="153.80" y1="273.88" x2="336.70" y2="273.88" stroke="#cccccc" stroke-width="0.9"/>
<line x1="153.80" y1="254.56" x2="336.70" y2="254.56" stroke="#cccccc" stroke-width="0.9"/>
<line x1="153.80" y1="235.24" x2="336.70" y2="235.24" stroke="#cccccc" stroke-width="0.9"/>
<line x1="153.80" y1="226.20" x2="153.80" y2="409.60" stroke="#989898" stroke-width="1.15"/>
<line x1="153.20" y1="409.10" x2="336.70" y2="409.10" stroke="#a2a2a2" stroke-width="1.05"/>
<circle cx="204.20" cy="244.50" r="1.8" fill="#707070" fill-opacity="0.78"/>
<circle cx="204.20" cy="256.00" r="1.8" fill="#707070" fill-opacity="0.78"/>
<circle cx="204.20" cy="258.20" r="1.8" fill="#707070" fill-opacity="0.78"/>
<circle cx="204.20" cy="273.60" r="1.8" fill="#707070" fill-opacity="0.78"/>
<circle cx="204.20" cy="275.50" r="1.8" fill="#707070" fill-opacity="0.78"/>
<circle cx="204.20" cy="277.40" r="1.8" fill="#707070" fill-opacity="0.78"/>
<circle cx="202.65" cy="275.50" r="1.8" fill="#707070" fill-opacity="0.78"/>
<circle cx="205.75" cy="275.50" r="1.8" fill="#707070" fill-opacity="0.78"/>
<circle cx="204.20" cy="281.40" r="1.8" fill="#707070" fill-opacity="0.78"/>
<circle cx="204.20" cy="283.20" r="1.8" fill="#707070" fill-opacity="0.78"/>
<circle cx="204.20" cy="287.50" r="1.8" fill="#707070" fill-opacity="0.78"/>
<circle cx="204.20" cy="289.50" r="1.8" fill="#707070" fill-opacity="0.78"/>
<circle cx="204.20" cy="294.90" r="1.8" fill="#707070" fill-opacity="0.78"/>
<circle cx="204.20" cy="298.90" r="1.8" fill="#707070" fill-opacity="0.78"/>
<circle cx="204.20" cy="300.30" r="1.8" fill="#707070" fill-opacity="0.78"/>
<circle cx="204.20" cy="302.50" r="1.8" fill="#707070" fill-opacity="0.78"/>
<circle cx="204.20" cy="310.60" r="1.8" fill="#707070" fill-opacity="0.78"/>
<circle cx="204.20" cy="312.80" r="1.8" fill="#707070" fill-opacity="0.78"/>
<circle cx="204.20" cy="314.60" r="1.8" fill="#707070" fill-opacity="0.78"/>
<circle cx="204.20" cy="329.70" r="1.8" fill="#707070" fill-opacity="0.78"/>
<circle cx="201.10" cy="333.80" r="1.8" fill="#707070" fill-opacity="0.78"/>
<circle cx="204.20" cy="333.80" r="1.8" fill="#707070" fill-opacity="0.78"/>
<circle cx="207.30" cy="333.80" r="1.8" fill="#707070" fill-opacity="0.78"/>
<circle cx="204.20" cy="337.80" r="1.8" fill="#707070" fill-opacity="0.78"/>
<circle cx="204.20" cy="339.60" r="1.8" fill="#707070" fill-opacity="0.78"/>
<circle cx="204.20" cy="343.60" r="1.8" fill="#707070" fill-opacity="0.78"/>
<circle cx="204.20" cy="345.50" r="1.8" fill="#707070" fill-opacity="0.78"/>
<circle cx="202.65" cy="347.20" r="1.8" fill="#707070" fill-opacity="0.78"/>
<circle cx="205.75" cy="347.20" r="1.8" fill="#707070" fill-opacity="0.78"/>
<circle cx="202.65" cy="355.10" r="1.8" fill="#707070" fill-opacity="0.78"/>
<circle cx="205.75" cy="355.10" r="1.8" fill="#707070" fill-opacity="0.78"/>
<circle cx="204.20" cy="357.80" r="1.8" fill="#707070" fill-opacity="0.78"/>
<circle cx="204.20" cy="363.00" r="1.8" fill="#707070" fill-opacity="0.78"/>
<circle cx="204.20" cy="370.40" r="1.8" fill="#707070" fill-opacity="0.78"/>
<circle cx="204.20" cy="376.30" r="1.8" fill="#707070" fill-opacity="0.78"/>
<circle cx="204.20" cy="383.90" r="1.8" fill="#707070" fill-opacity="0.78"/>
<line x1="204.20" y1="244.50" x2="204.20" y2="383.90" stroke="#666" stroke-width="0.7"/>
<line x1="199.00" y1="244.50" x2="209.40" y2="244.50" stroke="#666" stroke-width="0.8"/>
<line x1="199.00" y1="383.90" x2="209.40" y2="383.90" stroke="#666" stroke-width="0.8"/>
<line x1="193.60" y1="287.40" x2="193.60" y2="347.40" stroke="#484848" stroke-width="0.75"/>
<line x1="214.90" y1="287.40" x2="214.90" y2="347.40" stroke="#484848" stroke-width="0.75"/>
<line x1="193.25" y1="287.40" x2="215.25" y2="287.40" stroke="#484848" stroke-width="0.75"/>
<line x1="193.25" y1="347.40" x2="215.25" y2="347.40" stroke="#484848" stroke-width="0.75"/>
<line x1="193.25" y1="329.70" x2="215.25" y2="329.70" stroke="#1a1a1a" stroke-width="1.0"/>
<circle cx="286.40" cy="240.50" r="1.8" fill="#707070" fill-opacity="0.72"/>
<circle cx="286.40" cy="246.80" r="1.8" fill="#707070" fill-opacity="0.72"/>
<circle cx="286.40" cy="254.40" r="1.8" fill="#707070" fill-opacity="0.72"/>
<circle cx="280.20" cy="267.90" r="1.8" fill="#707070" fill-opacity="0.72"/>
<circle cx="283.30" cy="267.90" r="1.8" fill="#707070" fill-opacity="0.72"/>
<circle cx="286.40" cy="267.90" r="1.8" fill="#707070" fill-opacity="0.72"/>
<circle cx="289.50" cy="267.90" r="1.8" fill="#707070" fill-opacity="0.72"/>
<circle cx="292.60" cy="267.90" r="1.8" fill="#707070" fill-opacity="0.72"/>
<circle cx="283.30" cy="270.60" r="1.8" fill="#707070" fill-opacity="0.72"/>
<circle cx="286.40" cy="270.60" r="1.8" fill="#707070" fill-opacity="0.72"/>
<circle cx="289.50" cy="270.60" r="1.8" fill="#707070" fill-opacity="0.72"/>
<circle cx="284.85" cy="272.80" r="1.8" fill="#707070" fill-opacity="0.72"/>
<circle cx="287.95" cy="272.80" r="1.8" fill="#707070" fill-opacity="0.72"/>
<circle cx="284.85" cy="275.00" r="1.8" fill="#707070" fill-opacity="0.72"/>
<circle cx="287.95" cy="275.00" r="1.8" fill="#707070" fill-opacity="0.72"/>
<circle cx="281.75" cy="277.80" r="1.8" fill="#707070" fill-opacity="0.72"/>
<circle cx="284.85" cy="277.80" r="1.8" fill="#707070" fill-opacity="0.72"/>
<circle cx="287.95" cy="277.80" r="1.8" fill="#707070" fill-opacity="0.72"/>
<circle cx="291.05" cy="277.80" r="1.8" fill="#707070" fill-opacity="0.72"/>
<circle cx="284.85" cy="280.30" r="1.8" fill="#707070" fill-opacity="0.72"/>
<circle cx="287.95" cy="280.30" r="1.8" fill="#707070" fill-opacity="0.72"/>
<circle cx="283.30" cy="283.30" r="1.8" fill="#707070" fill-opacity="0.72"/>
<circle cx="286.40" cy="283.30" r="1.8" fill="#707070" fill-opacity="0.72"/>
<circle cx="289.50" cy="283.30" r="1.8" fill="#707070" fill-opacity="0.72"/>
<circle cx="284.85" cy="286.80" r="1.8" fill="#707070" fill-opacity="0.72"/>
<circle cx="287.95" cy="286.80" r="1.8" fill="#707070" fill-opacity="0.72"/>
<circle cx="281.75" cy="289.30" r="1.8" fill="#707070" fill-opacity="0.72"/>
<circle cx="284.85" cy="289.30" r="1.8" fill="#707070" fill-opacity="0.72"/>
<circle cx="287.95" cy="289.30" r="1.8" fill="#707070" fill-opacity="0.72"/>
<circle cx="291.05" cy="289.30" r="1.8" fill="#707070" fill-opacity="0.72"/>
<circle cx="284.85" cy="292.30" r="1.8" fill="#707070" fill-opacity="0.72"/>
<circle cx="287.95" cy="292.30" r="1.8" fill="#707070" fill-opacity="0.72"/>
<circle cx="284.85" cy="295.10" r="1.8" fill="#707070" fill-opacity="0.72"/>
<circle cx="287.95" cy="295.10" r="1.8" fill="#707070" fill-opacity="0.72"/>
<circle cx="286.40" cy="299.20" r="1.8" fill="#707070" fill-opacity="0.72"/>
<circle cx="284.85" cy="308.60" r="1.8" fill="#707070" fill-opacity="0.72"/>
<circle cx="287.95" cy="308.60" r="1.8" fill="#707070" fill-opacity="0.72"/>
<circle cx="284.85" cy="311.70" r="1.8" fill="#707070" fill-opacity="0.72"/>
<circle cx="287.95" cy="311.70" r="1.8" fill="#707070" fill-opacity="0.72"/>
<circle cx="284.85" cy="313.80" r="1.8" fill="#707070" fill-opacity="0.72"/>
<circle cx="287.95" cy="313.80" r="1.8" fill="#707070" fill-opacity="0.72"/>
<circle cx="284.85" cy="316.00" r="1.8" fill="#707070" fill-opacity="0.72"/>
<circle cx="287.95" cy="316.00" r="1.8" fill="#707070" fill-opacity="0.72"/>
<circle cx="284.85" cy="324.10" r="1.8" fill="#707070" fill-opacity="0.72"/>
<circle cx="287.95" cy="324.10" r="1.8" fill="#707070" fill-opacity="0.72"/>
<circle cx="283.30" cy="326.00" r="1.8" fill="#707070" fill-opacity="0.72"/>
<circle cx="286.40" cy="326.00" r="1.8" fill="#707070" fill-opacity="0.72"/>
<circle cx="289.50" cy="326.00" r="1.8" fill="#707070" fill-opacity="0.72"/>
<circle cx="280.20" cy="327.90" r="1.8" fill="#707070" fill-opacity="0.72"/>
<circle cx="283.30" cy="327.90" r="1.8" fill="#707070" fill-opacity="0.72"/>
<circle cx="286.40" cy="327.90" r="1.8" fill="#707070" fill-opacity="0.72"/>
<circle cx="289.50" cy="327.90" r="1.8" fill="#707070" fill-opacity="0.72"/>
<circle cx="292.60" cy="327.90" r="1.8" fill="#707070" fill-opacity="0.72"/>
<circle cx="283.30" cy="331.30" r="1.8" fill="#707070" fill-opacity="0.72"/>
<circle cx="286.40" cy="331.30" r="1.8" fill="#707070" fill-opacity="0.72"/>
<circle cx="289.50" cy="331.30" r="1.8" fill="#707070" fill-opacity="0.72"/>
<circle cx="284.85" cy="333.10" r="1.8" fill="#707070" fill-opacity="0.72"/>
<circle cx="287.95" cy="333.10" r="1.8" fill="#707070" fill-opacity="0.72"/>
<circle cx="284.85" cy="337.20" r="1.8" fill="#707070" fill-opacity="0.72"/>
<circle cx="287.95" cy="337.20" r="1.8" fill="#707070" fill-opacity="0.72"/>
<circle cx="280.20" cy="339.40" r="1.8" fill="#707070" fill-opacity="0.72"/>
<circle cx="283.30" cy="339.40" r="1.8" fill="#707070" fill-opacity="0.72"/>
<circle cx="286.40" cy="339.40" r="1.8" fill="#707070" fill-opacity="0.72"/>
<circle cx="289.50" cy="339.40" r="1.8" fill="#707070" fill-opacity="0.72"/>
<circle cx="292.60" cy="339.40" r="1.8" fill="#707070" fill-opacity="0.72"/>
<circle cx="284.85" cy="341.60" r="1.8" fill="#707070" fill-opacity="0.72"/>
<circle cx="287.95" cy="341.60" r="1.8" fill="#707070" fill-opacity="0.72"/>
<circle cx="284.85" cy="343.90" r="1.8" fill="#707070" fill-opacity="0.72"/>
<circle cx="287.95" cy="343.90" r="1.8" fill="#707070" fill-opacity="0.72"/>
<circle cx="284.85" cy="346.10" r="1.8" fill="#707070" fill-opacity="0.72"/>
<circle cx="287.95" cy="346.10" r="1.8" fill="#707070" fill-opacity="0.72"/>
<circle cx="284.85" cy="348.80" r="1.8" fill="#707070" fill-opacity="0.72"/>
<circle cx="287.95" cy="348.80" r="1.8" fill="#707070" fill-opacity="0.72"/>
<circle cx="284.85" cy="351.00" r="1.8" fill="#707070" fill-opacity="0.72"/>
<circle cx="287.95" cy="351.00" r="1.8" fill="#707070" fill-opacity="0.72"/>
<circle cx="281.75" cy="353.10" r="1.8" fill="#707070" fill-opacity="0.72"/>
<circle cx="284.85" cy="353.10" r="1.8" fill="#707070" fill-opacity="0.72"/>
<circle cx="287.95" cy="353.10" r="1.8" fill="#707070" fill-opacity="0.72"/>
<circle cx="291.05" cy="353.10" r="1.8" fill="#707070" fill-opacity="0.72"/>
<circle cx="284.85" cy="356.30" r="1.8" fill="#707070" fill-opacity="0.72"/>
<circle cx="287.95" cy="356.30" r="1.8" fill="#707070" fill-opacity="0.72"/>
<circle cx="284.85" cy="359.00" r="1.8" fill="#707070" fill-opacity="0.72"/>
<circle cx="287.95" cy="359.00" r="1.8" fill="#707070" fill-opacity="0.72"/>
<circle cx="284.85" cy="361.70" r="1.8" fill="#707070" fill-opacity="0.72"/>
<circle cx="287.95" cy="361.70" r="1.8" fill="#707070" fill-opacity="0.72"/>
<circle cx="284.85" cy="363.90" r="1.8" fill="#707070" fill-opacity="0.72"/>
<circle cx="287.95" cy="363.90" r="1.8" fill="#707070" fill-opacity="0.72"/>
<circle cx="284.85" cy="366.20" r="1.8" fill="#707070" fill-opacity="0.72"/>
<circle cx="287.95" cy="366.20" r="1.8" fill="#707070" fill-opacity="0.72"/>
<circle cx="286.40" cy="368.40" r="1.8" fill="#707070" fill-opacity="0.72"/>
<circle cx="283.30" cy="372.00" r="1.8" fill="#707070" fill-opacity="0.72"/>
<circle cx="286.40" cy="372.00" r="1.8" fill="#707070" fill-opacity="0.72"/>
<circle cx="289.50" cy="372.00" r="1.8" fill="#707070" fill-opacity="0.72"/>
<circle cx="286.40" cy="373.80" r="1.8" fill="#707070" fill-opacity="0.72"/>
<circle cx="286.40" cy="375.40" r="1.8" fill="#707070" fill-opacity="0.72"/>
<circle cx="286.40" cy="389.80" r="1.8" fill="#707070" fill-opacity="0.72"/>
<circle cx="286.40" cy="393.40" r="1.8" fill="#707070" fill-opacity="0.72"/>
<circle cx="286.40" cy="395.70" r="1.8" fill="#707070" fill-opacity="0.72"/>
<circle cx="286.40" cy="403.30" r="1.8" fill="#707070" fill-opacity="0.72"/>
<line x1="286.40" y1="240.50" x2="286.40" y2="403.30" stroke="#555" stroke-width="0.7"/>
<line x1="281.20" y1="240.50" x2="291.60" y2="240.50" stroke="#555" stroke-width="0.8"/>
<line x1="281.20" y1="403.30" x2="291.60" y2="403.30" stroke="#555" stroke-width="0.8"/>
<line x1="276.00" y1="283.30" x2="276.00" y2="353.10" stroke="#6a6a6a" stroke-width="0.75"/>
<line x1="296.90" y1="283.30" x2="296.90" y2="353.10" stroke="#484848" stroke-width="0.75"/>
<line x1="275.65" y1="283.30" x2="297.25" y2="283.30" stroke="#484848" stroke-width="0.75"/>
<line x1="275.65" y1="353.10" x2="297.25" y2="353.10" stroke="#484848" stroke-width="0.75"/>
<line x1="275.65" y1="327.90" x2="297.25" y2="327.90" stroke="#1a1a1a" stroke-width="1.0"/>
<line x1="371.30" y1="376.13" x2="562.40" y2="376.13" stroke="#cccccc" stroke-width="0.9"/>
<line x1="371.30" y1="343.16" x2="562.40" y2="343.16" stroke="#cccccc" stroke-width="0.9"/>
<line x1="371.30" y1="310.19" x2="562.40" y2="310.19" stroke="#cccccc" stroke-width="0.9"/>
<line x1="371.30" y1="277.22" x2="562.40" y2="277.22" stroke="#cccccc" stroke-width="0.9"/>
<line x1="371.30" y1="244.25" x2="562.40" y2="244.25" stroke="#cccccc" stroke-width="0.9"/>
<line x1="371.30" y1="226.20" x2="371.30" y2="409.60" stroke="#989898" stroke-width="1.15"/>
<line x1="370.70" y1="409.10" x2="562.40" y2="409.10" stroke="#a2a2a2" stroke-width="1.05"/>
<circle cx="423.60" cy="288.10" r="1.8" fill="#707070" fill-opacity="0.75"/>
<circle cx="423.60" cy="305.40" r="1.8" fill="#707070" fill-opacity="0.75"/>
<circle cx="423.60" cy="310.10" r="1.8" fill="#707070" fill-opacity="0.75"/>
<circle cx="423.60" cy="317.30" r="1.8" fill="#707070" fill-opacity="0.75"/>
<circle cx="423.60" cy="321.40" r="1.8" fill="#707070" fill-opacity="0.75"/>
<circle cx="423.60" cy="323.60" r="1.8" fill="#707070" fill-opacity="0.75"/>
<circle cx="423.60" cy="326.80" r="1.8" fill="#707070" fill-opacity="0.75"/>
<circle cx="423.60" cy="329.00" r="1.8" fill="#707070" fill-opacity="0.75"/>
<circle cx="423.60" cy="330.80" r="1.8" fill="#707070" fill-opacity="0.75"/>
<circle cx="423.60" cy="335.30" r="1.8" fill="#707070" fill-opacity="0.75"/>
<circle cx="423.60" cy="336.50" r="1.8" fill="#707070" fill-opacity="0.75"/>
<circle cx="423.60" cy="339.60" r="1.8" fill="#707070" fill-opacity="0.75"/>
<circle cx="423.60" cy="343.30" r="1.8" fill="#707070" fill-opacity="0.75"/>
<circle cx="423.60" cy="345.90" r="1.8" fill="#707070" fill-opacity="0.75"/>
<circle cx="422.05" cy="350.20" r="1.8" fill="#707070" fill-opacity="0.75"/>
<circle cx="425.15" cy="350.20" r="1.8" fill="#707070" fill-opacity="0.75"/>
<circle cx="423.60" cy="354.90" r="1.8" fill="#707070" fill-opacity="0.75"/>
<circle cx="423.60" cy="356.24" r="1.8" fill="#707070" fill-opacity="0.75"/>
<circle cx="423.60" cy="357.59" r="1.8" fill="#707070" fill-opacity="0.75"/>
<circle cx="423.60" cy="358.93" r="1.8" fill="#707070" fill-opacity="0.75"/>
<circle cx="423.60" cy="360.27" r="1.8" fill="#707070" fill-opacity="0.75"/>
<circle cx="423.60" cy="361.61" r="1.8" fill="#707070" fill-opacity="0.75"/>
<circle cx="423.60" cy="362.96" r="1.8" fill="#707070" fill-opacity="0.75"/>
<circle cx="423.60" cy="364.30" r="1.8" fill="#707070" fill-opacity="0.75"/>
<line x1="423.60" y1="305.40" x2="423.60" y2="364.30" stroke="#444" stroke-width="0.7"/>
<line x1="418.40" y1="305.40" x2="428.80" y2="305.40" stroke="#444" stroke-width="0.8"/>
<line x1="418.40" y1="364.30" x2="428.80" y2="364.30" stroke="#444" stroke-width="0.8"/>
<line x1="413.10" y1="326.50" x2="413.10" y2="350.40" stroke="#aaa" stroke-width="0.7"/>
<line x1="434.60" y1="326.50" x2="434.60" y2="350.40" stroke="#4a4a4a" stroke-width="0.7"/>
<line x1="412.75" y1="326.50" x2="434.95" y2="326.50" stroke="#4a4a4a" stroke-width="0.7"/>
<line x1="412.75" y1="350.40" x2="434.95" y2="350.40" stroke="#4a4a4a" stroke-width="0.7"/>
<line x1="412.75" y1="343.30" x2="434.95" y2="343.30" stroke="#1a1a1a" stroke-width="1.0"/>
<circle cx="509.60" cy="263.60" r="1.8" fill="#707070" fill-opacity="0.7"/>
<circle cx="509.60" cy="272.40" r="1.8" fill="#707070" fill-opacity="0.7"/>
<circle cx="509.60" cy="302.70" r="1.8" fill="#707070" fill-opacity="0.7"/>
<circle cx="509.60" cy="307.20" r="1.8" fill="#707070" fill-opacity="0.7"/>
<circle cx="508.05" cy="311.30" r="1.8" fill="#707070" fill-opacity="0.7"/>
<circle cx="511.15" cy="311.30" r="1.8" fill="#707070" fill-opacity="0.7"/>
<circle cx="508.05" cy="312.93" r="1.8" fill="#707070" fill-opacity="0.7"/>
<circle cx="511.15" cy="312.93" r="1.8" fill="#707070" fill-opacity="0.7"/>
<circle cx="508.05" cy="314.57" r="1.8" fill="#707070" fill-opacity="0.7"/>
<circle cx="511.15" cy="314.57" r="1.8" fill="#707070" fill-opacity="0.7"/>
<circle cx="508.05" cy="316.20" r="1.8" fill="#707070" fill-opacity="0.7"/>
<circle cx="511.15" cy="316.20" r="1.8" fill="#707070" fill-opacity="0.7"/>
<circle cx="509.60" cy="319.00" r="1.8" fill="#707070" fill-opacity="0.7"/>
<circle cx="509.60" cy="320.40" r="1.8" fill="#707070" fill-opacity="0.7"/>
<circle cx="509.60" cy="321.80" r="1.8" fill="#707070" fill-opacity="0.7"/>
<circle cx="509.60" cy="323.20" r="1.8" fill="#707070" fill-opacity="0.7"/>
<circle cx="509.60" cy="324.60" r="1.8" fill="#707070" fill-opacity="0.7"/>
<circle cx="509.60" cy="326.00" r="1.8" fill="#707070" fill-opacity="0.7"/>
<circle cx="508.05" cy="327.00" r="1.8" fill="#707070" fill-opacity="0.7"/>
<circle cx="511.15" cy="327.00" r="1.8" fill="#707070" fill-opacity="0.7"/>
<circle cx="508.05" cy="328.33" r="1.8" fill="#707070" fill-opacity="0.7"/>
<circle cx="511.15" cy="328.33" r="1.8" fill="#707070" fill-opacity="0.7"/>
<circle cx="508.05" cy="329.67" r="1.8" fill="#707070" fill-opacity="0.7"/>
<circle cx="511.15" cy="329.67" r="1.8" fill="#707070" fill-opacity="0.7"/>
<circle cx="508.05" cy="331.00" r="1.8" fill="#707070" fill-opacity="0.7"/>
<circle cx="511.15" cy="331.00" r="1.8" fill="#707070" fill-opacity="0.7"/>
<circle cx="506.50" cy="335.00" r="1.8" fill="#707070" fill-opacity="0.7"/>
<circle cx="509.60" cy="335.00" r="1.8" fill="#707070" fill-opacity="0.7"/>
<circle cx="512.70" cy="335.00" r="1.8" fill="#707070" fill-opacity="0.7"/>
<circle cx="508.05" cy="337.00" r="1.8" fill="#707070" fill-opacity="0.7"/>
<circle cx="511.15" cy="337.00" r="1.8" fill="#707070" fill-opacity="0.7"/>
<circle cx="508.05" cy="340.00" r="1.8" fill="#707070" fill-opacity="0.7"/>
<circle cx="511.15" cy="340.00" r="1.8" fill="#707070" fill-opacity="0.7"/>
<circle cx="506.50" cy="342.50" r="1.8" fill="#707070" fill-opacity="0.7"/>
<circle cx="509.60" cy="342.50" r="1.8" fill="#707070" fill-opacity="0.7"/>
<circle cx="512.70" cy="342.50" r="1.8" fill="#707070" fill-opacity="0.7"/>
<circle cx="508.05" cy="344.00" r="1.8" fill="#707070" fill-opacity="0.7"/>
<circle cx="511.15" cy="344.00" r="1.8" fill="#707070" fill-opacity="0.7"/>
<circle cx="508.05" cy="345.50" r="1.8" fill="#707070" fill-opacity="0.7"/>
<circle cx="511.15" cy="345.50" r="1.8" fill="#707070" fill-opacity="0.7"/>
<circle cx="508.05" cy="347.00" r="1.8" fill="#707070" fill-opacity="0.7"/>
<circle cx="511.15" cy="347.00" r="1.8" fill="#707070" fill-opacity="0.7"/>
<circle cx="508.05" cy="348.50" r="1.8" fill="#707070" fill-opacity="0.7"/>
<circle cx="511.15" cy="348.50" r="1.8" fill="#707070" fill-opacity="0.7"/>
<circle cx="509.60" cy="351.00" r="1.8" fill="#707070" fill-opacity="0.7"/>
<circle cx="509.60" cy="353.00" r="1.8" fill="#707070" fill-opacity="0.7"/>
<circle cx="508.05" cy="355.80" r="1.8" fill="#707070" fill-opacity="0.7"/>
<circle cx="511.15" cy="355.80" r="1.8" fill="#707070" fill-opacity="0.7"/>
<circle cx="509.60" cy="358.00" r="1.8" fill="#707070" fill-opacity="0.7"/>
<circle cx="509.60" cy="360.00" r="1.8" fill="#707070" fill-opacity="0.7"/>
<circle cx="508.05" cy="362.30" r="1.8" fill="#707070" fill-opacity="0.7"/>
<circle cx="511.15" cy="362.30" r="1.8" fill="#707070" fill-opacity="0.7"/>
<circle cx="509.60" cy="364.50" r="1.8" fill="#707070" fill-opacity="0.7"/>
<circle cx="509.60" cy="366.50" r="1.8" fill="#707070" fill-opacity="0.7"/>
<circle cx="509.60" cy="369.30" r="1.8" fill="#707070" fill-opacity="0.7"/>
<line x1="509.60" y1="302.70" x2="509.60" y2="369.30" stroke="#444" stroke-width="0.7"/>
<line x1="504.40" y1="302.70" x2="514.80" y2="302.70" stroke="#444" stroke-width="0.8"/>
<line x1="504.40" y1="369.30" x2="514.80" y2="369.30" stroke="#444" stroke-width="0.8"/>
<line x1="499.10" y1="326.50" x2="499.10" y2="351.30" stroke="#888" stroke-width="0.7"/>
<line x1="520.90" y1="326.50" x2="520.90" y2="351.30" stroke="#4a4a4a" stroke-width="0.7"/>
<line x1="498.75" y1="326.50" x2="521.25" y2="326.50" stroke="#4a4a4a" stroke-width="0.7"/>
<line x1="498.75" y1="351.30" x2="521.25" y2="351.30" stroke="#4a4a4a" stroke-width="0.7"/>
<line x1="498.75" y1="338.20" x2="521.25" y2="338.20" stroke="#1a1a1a" stroke-width="1.0"/>
<line x1="0.00" y1="217.70" x2="685.00" y2="217.70" stroke="#5e5e5e" stroke-width="1.35"/>
<line x1="228.50" y1="0.00" x2="228.50" y2="217.40" stroke="#747474" stroke-width="1.0"/>
<line x1="453.60" y1="0.00" x2="453.60" y2="217.40" stroke="#747474" stroke-width="1.0"/>
<line x1="112.50" y1="217.40" x2="112.50" y2="445.00" stroke="#747474" stroke-width="1.0"/>
<line x1="340.60" y1="217.40" x2="340.60" y2="445.00" stroke="#747474" stroke-width="1.0"/>
<line x1="573.30" y1="217.40" x2="573.30" y2="445.00" stroke="#aaa" stroke-width="1.8"/>
<g>
<text class="t" transform="translate(31.00 195.10) rotate(0.05) scale(0.83 1)" font-size="8.0" text-anchor="end" fill="#1a1a1a">0.0</text>
<text class="t" transform="translate(31.00 167.67) rotate(0.05) scale(0.83 1)" font-size="8.0" text-anchor="end" fill="#1a1a1a">0.1</text>
<text class="t" transform="translate(31.00 140.24) rotate(0.05) scale(0.83 1)" font-size="8.0" text-anchor="end" fill="#1a1a1a">0.2</text>
<text class="t" transform="translate(31.00 112.81) rotate(0.05) scale(0.83 1)" font-size="8.0" text-anchor="end" fill="#1a1a1a">0.3</text>
<text class="t" transform="translate(31.00 85.38) rotate(0.05) scale(0.83 1)" font-size="8.0" text-anchor="end" fill="#1a1a1a">0.4</text>
<text class="t" transform="translate(31.00 57.95) rotate(0.05) scale(0.83 1)" font-size="8.0" text-anchor="end" fill="#1a1a1a">0.5</text>
<text class="t" transform="translate(31.00 30.52) rotate(0.05) scale(0.83 1)" font-size="8.0" text-anchor="end" fill="#1a1a1a">0.6</text>
<text class="L" transform="translate(2.50 24.10) rotate(0.05)" font-size="28.0" text-anchor="start" fill="#000">a</text>
<text class="t" transform="translate(13.30 99.85) rotate(-89.95)" font-size="9.5" text-anchor="middle" fill="#1a1a1a">CDVA (logMAR)</text>
<text class="t" transform="translate(86.00 203.30) rotate(0.05) scale(0.995 1)" font-size="9.5" text-anchor="middle" fill="#1a1a1a">Intraoperative</text>
<text class="t" transform="translate(86.70 213.20) rotate(0.05) scale(0.995 1)" font-size="9.5" text-anchor="middle" fill="#1a1a1a">Splitting</text>
<text class="t" transform="translate(171.30 203.30) rotate(0.05) scale(0.995 1)" font-size="9.5" text-anchor="middle" fill="#1a1a1a">No Intraoperative</text>
<text class="t" transform="translate(172.00 213.20) rotate(0.05) scale(0.995 1)" font-size="9.5" text-anchor="middle" fill="#1a1a1a">Splitting</text>
<text class="t" transform="translate(259.20 195.15) rotate(0.05) scale(0.85 1)" font-size="8.0" text-anchor="end" fill="#1a1a1a">0</text>
<text class="t" transform="translate(259.20 170.28) rotate(0.05) scale(0.85 1)" font-size="8.0" text-anchor="end" fill="#1a1a1a">100</text>
<text class="t" transform="translate(259.20 145.41) rotate(0.05) scale(0.85 1)" font-size="8.0" text-anchor="end" fill="#1a1a1a">200</text>
<text class="t" transform="translate(259.20 120.54) rotate(0.05) scale(0.85 1)" font-size="8.0" text-anchor="end" fill="#1a1a1a">300</text>
<text class="t" transform="translate(259.20 95.67) rotate(0.05) scale(0.85 1)" font-size="8.0" text-anchor="end" fill="#1a1a1a">400</text>
<text class="t" transform="translate(259.20 70.80) rotate(0.05) scale(0.85 1)" font-size="8.0" text-anchor="end" fill="#1a1a1a">500</text>
<text class="t" transform="translate(259.20 45.93) rotate(0.05) scale(0.85 1)" font-size="8.0" text-anchor="end" fill="#1a1a1a">600</text>
<text class="t" transform="translate(259.20 21.06) rotate(0.05) scale(0.85 1)" font-size="8.0" text-anchor="end" fill="#1a1a1a">700</text>
<text class="L" transform="translate(230.20 24.10) rotate(0.05)" font-size="28.0" text-anchor="start" fill="#000">b</text>
<text class="t" transform="translate(238.80 99.83) rotate(-89.95)" font-size="9.5" text-anchor="middle" fill="#1a1a1a">Central Corneal Thickness (µm)</text>
<text class="t" transform="translate(313.50 203.30) rotate(0.05) scale(0.995 1)" font-size="9.5" text-anchor="middle" fill="#1a1a1a">Intraoperative</text>
<text class="t" transform="translate(314.20 213.20) rotate(0.05) scale(0.995 1)" font-size="9.5" text-anchor="middle" fill="#1a1a1a">Splitting</text>
<text class="t" transform="translate(397.60 203.30) rotate(0.05) scale(0.995 1)" font-size="9.5" text-anchor="middle" fill="#1a1a1a">No Intraoperative</text>
<text class="t" transform="translate(398.30 213.20) rotate(0.05) scale(0.995 1)" font-size="9.5" text-anchor="middle" fill="#1a1a1a">Splitting</text>
<text class="t" transform="translate(484.90 195.15) rotate(0.05) scale(0.85 1)" font-size="8.0" text-anchor="end" fill="#1a1a1a">0</text>
<text class="t" transform="translate(484.90 170.28) rotate(0.05) scale(0.85 1)" font-size="8.0" text-anchor="end" fill="#1a1a1a">100</text>
<text class="t" transform="translate(484.90 145.41) rotate(0.05) scale(0.85 1)" font-size="8.0" text-anchor="end" fill="#1a1a1a">200</text>
<text class="t" transform="translate(484.90 120.54) rotate(0.05) scale(0.85 1)" font-size="8.0" text-anchor="end" fill="#1a1a1a">300</text>
<text class="t" transform="translate(484.90 95.67) rotate(0.05) scale(0.85 1)" font-size="8.0" text-anchor="end" fill="#1a1a1a">400</text>
<text class="t" transform="translate(484.90 70.80) rotate(0.05) scale(0.85 1)" font-size="8.0" text-anchor="end" fill="#1a1a1a">500</text>
<text class="t" transform="translate(484.90 45.93) rotate(0.05) scale(0.85 1)" font-size="8.0" text-anchor="end" fill="#1a1a1a">600</text>
<text class="t" transform="translate(484.90 21.06) rotate(0.05) scale(0.85 1)" font-size="8.0" text-anchor="end" fill="#1a1a1a">700</text>
<text class="L" transform="translate(455.70 24.10) rotate(0.05)" font-size="28.0" text-anchor="start" fill="#000">c</text>
<text class="t" transform="translate(464.80 99.83) rotate(-89.95)" font-size="9.5" text-anchor="middle" fill="#1a1a1a">Thinnest Corneal Thickness (µm)</text>
<text class="t" transform="translate(539.50 203.30) rotate(0.05) scale(0.995 1)" font-size="9.5" text-anchor="middle" fill="#1a1a1a">Intraoperative</text>
<text class="t" transform="translate(540.20 213.20) rotate(0.05) scale(0.995 1)" font-size="9.5" text-anchor="middle" fill="#1a1a1a">Splitting</text>
<text class="t" transform="translate(623.60 203.30) rotate(0.05) scale(0.995 1)" font-size="9.5" text-anchor="middle" fill="#1a1a1a">No Intraoperative</text>
<text class="t" transform="translate(624.30 213.20) rotate(0.05) scale(0.995 1)" font-size="9.5" text-anchor="middle" fill="#1a1a1a">Splitting</text>
<text class="t" transform="translate(151.00 412.12) rotate(0.05) scale(0.88 1)" font-size="8.0" text-anchor="end" fill="#1a1a1a">-10%</text>
<text class="t" transform="translate(151.00 392.80) rotate(0.05) scale(0.88 1)" font-size="8.0" text-anchor="end" fill="#1a1a1a">0%</text>
<text class="t" transform="translate(151.00 373.48) rotate(0.05) scale(0.88 1)" font-size="8.0" text-anchor="end" fill="#1a1a1a">10%</text>
<text class="t" transform="translate(151.00 354.16) rotate(0.05) scale(0.88 1)" font-size="8.0" text-anchor="end" fill="#1a1a1a">20%</text>
<text class="t" transform="translate(151.00 334.84) rotate(0.05) scale(0.88 1)" font-size="8.0" text-anchor="end" fill="#1a1a1a">30%</text>
<text class="t" transform="translate(151.00 315.52) rotate(0.05) scale(0.88 1)" font-size="8.0" text-anchor="end" fill="#1a1a1a">40%</text>
<text class="t" transform="translate(151.00 296.20) rotate(0.05) scale(0.88 1)" font-size="8.0" text-anchor="end" fill="#1a1a1a">50%</text>
<text class="t" transform="translate(151.00 276.88) rotate(0.05) scale(0.88 1)" font-size="8.0" text-anchor="end" fill="#1a1a1a">60%</text>
<text class="t" transform="translate(151.00 257.56) rotate(0.05) scale(0.88 1)" font-size="8.0" text-anchor="end" fill="#1a1a1a">70%</text>
<text class="t" transform="translate(151.00 238.24) rotate(0.05) scale(0.88 1)" font-size="8.0" text-anchor="end" fill="#1a1a1a">80%</text>
<text class="L" transform="translate(116.30 241.70) rotate(0.05)" font-size="28.0" text-anchor="start" fill="#000">d</text>
<text class="t" transform="translate(126.80 316.85) rotate(-89.95)" font-size="9.5" text-anchor="middle" fill="#1a1a1a">Endothelial Cell Loss (%)</text>
<text class="t" transform="translate(204.20 420.00) rotate(0.05) scale(0.995 1)" font-size="9.5" text-anchor="middle" fill="#1a1a1a">Intraoperative</text>
<text class="t" transform="translate(204.90 429.90) rotate(0.05) scale(0.995 1)" font-size="9.5" text-anchor="middle" fill="#1a1a1a">Splitting</text>
<text class="t" transform="translate(286.40 420.00) rotate(0.05) scale(0.995 1)" font-size="9.5" text-anchor="middle" fill="#1a1a1a">No Intraoperative</text>
<text class="t" transform="translate(287.10 429.90) rotate(0.05) scale(0.995 1)" font-size="9.5" text-anchor="middle" fill="#1a1a1a">Splitting</text>
<text class="t" transform="translate(368.50 412.10) rotate(0.05) scale(0.88 1)" font-size="8.0" text-anchor="end" fill="#1a1a1a">0</text>
<text class="t" transform="translate(368.50 379.13) rotate(0.05) scale(0.88 1)" font-size="8.0" text-anchor="end" fill="#1a1a1a">10</text>
<text class="t" transform="translate(368.50 346.16) rotate(0.05) scale(0.88 1)" font-size="8.0" text-anchor="end" fill="#1a1a1a">20</text>
<text class="t" transform="translate(368.50 313.19) rotate(0.05) scale(0.88 1)" font-size="8.0" text-anchor="end" fill="#1a1a1a">30</text>
<text class="t" transform="translate(368.50 280.22) rotate(0.05) scale(0.88 1)" font-size="8.0" text-anchor="end" fill="#1a1a1a">40</text>
<text class="t" transform="translate(368.50 247.25) rotate(0.05) scale(0.88 1)" font-size="8.0" text-anchor="end" fill="#1a1a1a">50</text>
<text class="L" transform="translate(343.20 241.70) rotate(0.05)" font-size="28.0" text-anchor="start" fill="#000">e</text>
<text class="t" transform="translate(352.90 316.85) rotate(-89.95)" font-size="9.5" text-anchor="middle" fill="#1a1a1a">Posterior Corneal Density (GSU)</text>
<text class="t" transform="translate(423.60 420.00) rotate(0.05) scale(0.995 1)" font-size="9.5" text-anchor="middle" fill="#1a1a1a">Intraoperative</text>
<text class="t" transform="translate(424.30 429.90) rotate(0.05) scale(0.995 1)" font-size="9.5" text-anchor="middle" fill="#1a1a1a">Splitting</text>
<text class="t" transform="translate(509.60 420.00) rotate(0.05) scale(0.995 1)" font-size="9.5" text-anchor="middle" fill="#1a1a1a">No Intraoperative</text>
<text class="t" transform="translate(510.30 429.90) rotate(0.05) scale(0.995 1)" font-size="9.5" text-anchor="middle" fill="#1a1a1a">Splitting</text>
</g>
</svg>
</body></html>
